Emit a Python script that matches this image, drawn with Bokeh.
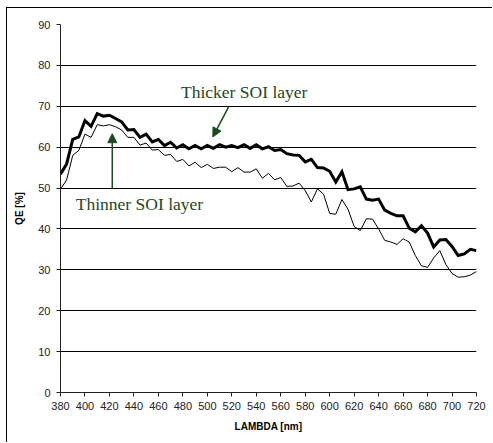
from bokeh.plotting import figure
from bokeh.models import Arrow, NormalHead, Label, FixedTicker
from bokeh.embed import file_html
from bokeh.resources import INLINE

# Wavelength grid [nm] and quantum efficiency [%] for the two SOI thicknesses
wavelength = [380, 385, 390, 395, 400, 405, 410, 415, 420, 425, 430, 435, 440, 445,
              450, 455, 460, 465, 470, 475, 480, 485, 490, 495, 500, 505, 510, 515,
              520, 525, 530, 535, 540, 545, 550, 555, 560, 565, 570, 575, 580, 585,
              590, 595, 600, 605, 610, 615, 620, 625, 630, 635, 640, 645, 650, 655,
              660, 665, 670, 675, 680, 685, 690, 695, 700, 705, 710, 715, 720]

qe_thicker = [53.4, 55.9, 61.9, 62.5, 66.5, 65.1, 68.2, 67.6, 67.8, 67.0, 66.2, 64.2,
              64.3, 62.4, 63.2, 61.3, 61.9, 60.4, 61.2, 59.8, 60.6, 59.6, 60.4, 59.6,
              60.4, 59.7, 60.6, 60.0, 60.4, 59.9, 60.6, 59.7, 60.6, 59.6, 60.1, 59.2,
              59.4, 58.4, 58.1, 58.0, 56.4, 57.0, 55.0, 54.9, 54.1, 51.5, 54.0, 49.6,
              49.8, 50.3, 47.3, 47.0, 47.3, 44.6, 43.8, 43.2, 43.2, 40.2, 39.3, 40.8,
              39.0, 35.6, 37.3, 37.4, 35.7, 33.5, 33.9, 35.0, 34.7]

qe_thinner = [49.7, 52.0, 58.0, 59.2, 63.2, 62.4, 65.5, 65.2, 65.5, 65.0, 64.2, 62.4,
              62.4, 60.5, 61.0, 59.3, 59.4, 58.0, 58.2, 56.5, 57.0, 55.4, 56.3, 55.0,
              55.8, 54.8, 55.1, 55.1, 54.0, 55.0, 53.9, 53.9, 54.7, 52.4, 53.6, 52.0,
              52.6, 50.4, 50.5, 51.2, 49.4, 46.6, 49.8, 48.5, 43.8, 43.6, 47.2, 44.8,
              40.6, 39.6, 42.5, 42.4, 40.0, 37.2, 36.8, 36.2, 37.6, 36.8, 33.5, 31.0,
              30.6, 32.9, 34.7, 31.3, 29.1, 28.2, 28.3, 28.7, 29.6]

x_ticks = [380, 400, 420, 440, 460, 480, 500, 520, 540, 560, 580, 600, 620, 640,
           660, 680, 700, 720]
y_ticks = [0, 10, 20, 30, 40, 50, 60, 70, 80, 90]

# Callout labels (data coordinates)
thick_label = ("Thicker SOI layer", 478.5, 73.6)
thin_label = ("Thinner SOI layer", 392.5, 46.2)
thick_arrow = (517.5, 69.9, 504.5, 62.5)
thin_arrow = (422.3, 50.0, 422.3, 63.3)

GREEN = "#1b4a1d"
SANS = "Liberation Sans"
SERIF = "Liberation Serif"

p = figure(width=486, height=435, x_range=(380, 720), y_range=(0, 90),
           output_backend="svg", toolbar_location=None,
           min_border_left=53, min_border_right=17,
           min_border_top=16, min_border_bottom=51)
p.margin = (7, 0, 0, 6)
p.styles = {"border-left": "1px solid black", "border-top": "1px solid black"}
p.outline_line_color = None
p.background_fill_color = "white"
p.border_fill_color = "white"

p.line(wavelength, qe_thinner, line_color="black", line_width=1)
p.line(wavelength, qe_thicker, line_color="black", line_width=3, line_join="miter")

# Axes
p.xaxis.ticker = FixedTicker(ticks=x_ticks)
p.yaxis.ticker = FixedTicker(ticks=y_ticks)
for ax in (p.xaxis[0], p.yaxis[0]):
    ax.axis_line_color = "#222222"
    ax.major_tick_line_color = "#222222"
    ax.major_tick_in = 0
    ax.major_tick_out = 4
    ax.minor_tick_line_color = None
    ax.major_label_text_font = SANS
    ax.major_label_text_font_size = "11px"
    ax.major_label_text_color = "#222222"
    ax.axis_label_text_font = SANS
    ax.axis_label_text_font_size = "10px"
    ax.axis_label_text_font_style = "bold"
    ax.axis_label_text_color = "black"

p.xaxis.axis_label = "LAMBDA [nm]"
p.yaxis.axis_label = "QE [%]"
p.xaxis.major_label_standoff = 5
p.xaxis.axis_label_standoff = 8
p.yaxis.major_label_standoff = 6
p.yaxis.axis_label_standoff = 10

p.xgrid.visible = False
p.ygrid.ticker = FixedTicker(ticks=y_ticks)
p.ygrid.grid_line_color = "black"
p.ygrid.grid_line_width = 1

# Callouts
for text, x, y in (thick_label, thin_label):
    p.add_layout(Label(x=x, y=y, text=text, text_font=SERIF, text_font_size="17.5px",
                       text_color=GREEN, text_baseline="middle", text_align="left"))

for xs, ys, xe, ye in (thick_arrow, thin_arrow):
    p.add_layout(Arrow(end=NormalHead(size=9, fill_color=GREEN, line_color=GREEN),
                       x_start=xs, y_start=ys, x_end=xe, y_end=ye,
                       line_color=GREEN, line_width=1.5))

open("out.html", "w").write(file_html(p, INLINE))
